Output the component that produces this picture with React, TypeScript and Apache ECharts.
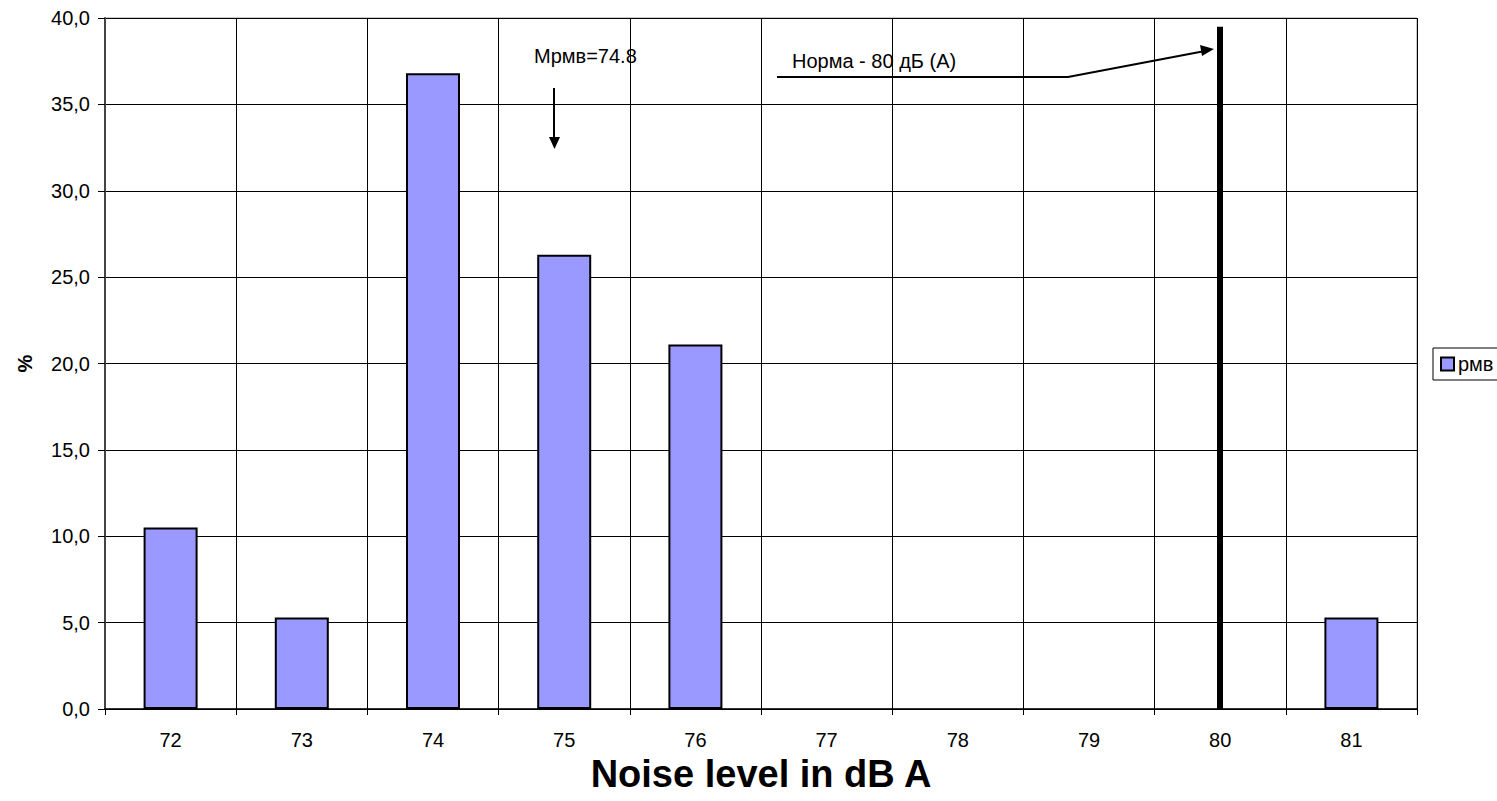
import React, { useEffect, useRef } from "react";
import * as echarts from "echarts";

const categories = ["72", "73", "74", "75", "76", "77", "78", "79", "80", "81"];
const values = [10.5, 5.3, 36.8, 26.3, 21.1, 0, 0, 0, 0, 5.3];
const normCategory = "80";
const normTop = 39.5;
const seriesName = "рмв";
const meanLabel = "Мрмв=74.8";
const normLabel = "Норма - 80 дБ (А)";

export default function App() {
  const ref = useRef<HTMLDivElement>(null);
  useEffect(() => {
    const chart = echarts.init(ref.current!, null, { renderer: "svg" });
    const font = "Liberation Sans, Arial, sans-serif";
    chart.setOption({
      animation: false,
      backgroundColor: "#fff",
      textStyle: { fontFamily: font },
      grid: {
        left: 105,
        top: 18,
        right: 80,
        bottom: 92,
        show: true,
        borderColor: "#999",
        borderWidth: 1,
      },
      legend: {
        left: 1433,
        top: 348,
        orient: "vertical",
        borderColor: "#000",
        borderWidth: 1,
        borderRadius: 0,
        padding: [6, 10, 6, 7],
        itemWidth: 13,
        itemHeight: 13,
        itemGap: 4,
        textStyle: { fontFamily: font, fontSize: 20, color: "#000", padding: [0, 0, 0, -1] },
        data: [{ name: seriesName, icon: "rect", itemStyle: { color: "#9999ff", borderColor: "#000", borderWidth: 2 } }],
      },
      xAxis: {
        type: "category",
        data: categories,
        name: "Noise level in dB A",
        nameLocation: "middle",
        nameGap: 45,
        nameTextStyle: { fontFamily: font, fontSize: 38, fontWeight: "bold", color: "#000" },
        axisLine: { lineStyle: { color: "#000", width: 1.5 } },
        axisTick: { show: true, length: 6, lineStyle: { color: "#000" } },
        axisLabel: { fontSize: 20, color: "#000", margin: 21, fontFamily: font },
        splitLine: { show: true, lineStyle: { color: "#000", width: 1 } },
      },
      yAxis: {
        type: "value",
        min: 0,
        max: 40,
        interval: 5,
        name: "%",
        nameLocation: "middle",
        nameGap: 70,
        nameRotate: 90,
        nameTextStyle: { fontFamily: font, fontSize: 20, fontWeight: "bold", color: "#000" },
        axisLine: { show: true, lineStyle: { color: "#444", width: 2 } },
        axisTick: { show: true, length: 7, lineStyle: { color: "#000" } },
        axisLabel: {
          fontSize: 20,
          color: "#000",
          margin: 15,
          fontFamily: font,
          formatter: (v: number) => v.toFixed(1).replace(".", ","),
        },
        splitLine: { show: true, lineStyle: { color: "#000", width: 1 } },
      },
      series: [
        {
          name: seriesName,
          type: "bar",
          data: values.map((v) => (v === 0 ? { value: v, itemStyle: { borderWidth: 0 } } : v)),
          barWidth: 54,
          itemStyle: { color: "#9999ff", borderColor: "#000", borderWidth: 2 },
          markLine: {
            silent: true,
            symbol: "none",
            label: { show: false },
            lineStyle: { color: "#000", width: 6, type: "solid" },
            data: [[{ coord: [normCategory, 0] }, { coord: [normCategory, normTop] }]],
          },
        },
      ],
      graphic: [
        {
          type: "text",
          left: 534,
          top: 46,
          style: { text: meanLabel, fontSize: 20, fill: "#000", fontFamily: font },
        },
        {
          type: "line",
          shape: { x1: 554, y1: 88, x2: 554, y2: 138 },
          style: { stroke: "#000", lineWidth: 2 },
        },
        {
          type: "polygon",
          shape: { points: [[549, 137], [560, 137], [554.5, 149]] },
          style: { fill: "#000" },
        },
        {
          type: "text",
          left: 792,
          top: 51,
          style: { text: normLabel, fontSize: 20, fill: "#000", fontFamily: font },
        },
        {
          type: "polyline",
          shape: { points: [[777, 77], [1068, 77], [1205, 51]] },
          style: { stroke: "#000", lineWidth: 2, fill: null },
        },
        {
          type: "polygon",
          shape: { points: [[1214, 49], [1200, 45], [1202, 56]] },
          style: { fill: "#000" },
        },
      ],
    });
    return () => chart.dispose();
  }, []);
  return (
    <div
      ref={ref}
      style={{ position: "fixed", left: 0, top: 0, width: 1497, height: 801, background: "#fff" }}
    />
  );
}
